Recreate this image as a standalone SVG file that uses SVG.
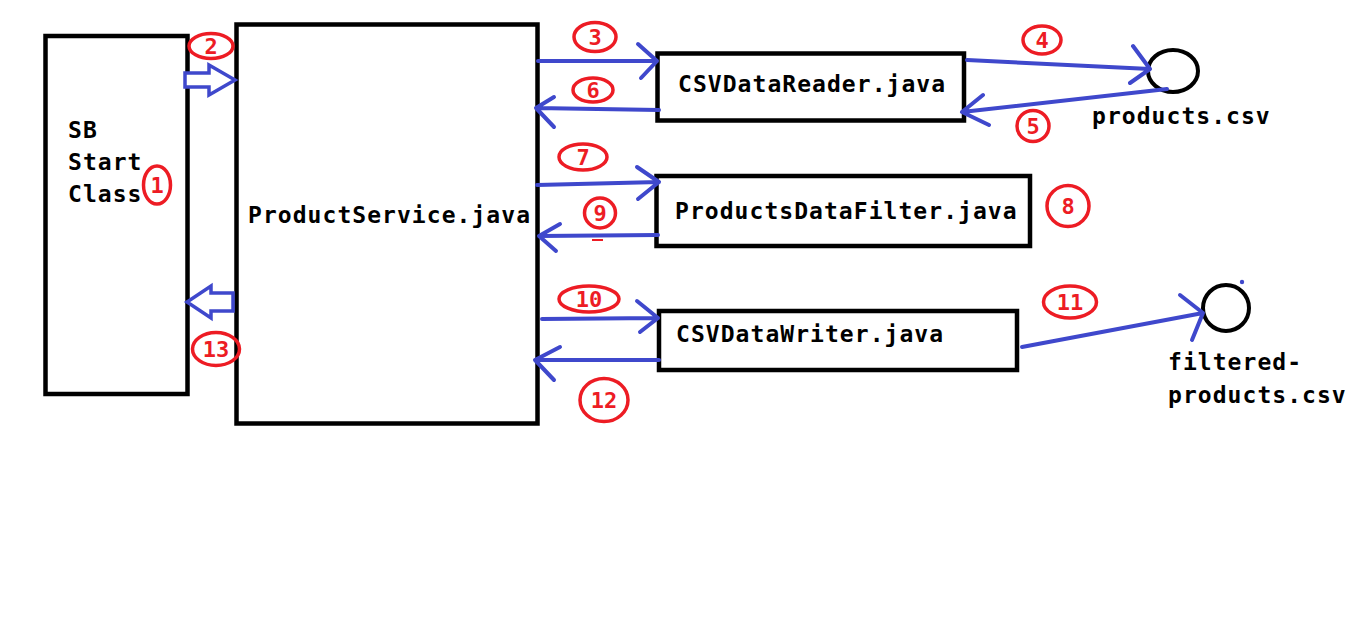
<svg xmlns="http://www.w3.org/2000/svg" width="1360" height="622" viewBox="0 0 1360 622">
<style>
.box{fill:#fff;stroke:#000;stroke-width:4.5}
.txt{font-family:"DejaVu Sans Mono","Liberation Mono",monospace;font-weight:bold;font-size:23px;letter-spacing:1.05px;fill:#000}
.con{fill:none;stroke:#3f48cc;stroke-width:4;stroke-linecap:round;stroke-linejoin:round}
.blk{fill:#fff;stroke:#3f48cc;stroke-width:3.5;stroke-linejoin:miter}
.num ellipse{fill:none;stroke:#ed1c24;stroke-width:3.5}
.num text{font-family:"DejaVu Sans Mono","Liberation Mono",monospace;font-weight:bold;font-size:22px;fill:#ed1c24;text-anchor:middle}
.file{fill:none;stroke:#000;stroke-width:4}
</style>
<rect width="1360" height="622" fill="#fff"/>
<g id="sb-start-class">
<rect class="box" x="45.5" y="36" width="142" height="358"/>
<text class="txt" x="68" y="138">SB</text>
<text class="txt" x="68" y="170">Start</text>
<text class="txt" x="68" y="202">Class</text>
</g>
<g id="product-service">
<rect class="box" x="236.5" y="24.5" width="301" height="399"/>
<text class="txt" x="248" y="223">ProductService.java</text>
</g>
<g id="csv-data-reader">
<rect class="box" x="657.5" y="53.5" width="306.5" height="67"/>
<text class="txt" x="678" y="92">CSVDataReader.java</text>
</g>
<g id="products-data-filter">
<rect class="box" x="656.5" y="176" width="373.5" height="70"/>
<text class="txt" x="675" y="219">ProductsDataFilter.java</text>
</g>
<g id="csv-data-writer">
<rect class="box" x="659" y="311" width="358" height="59"/>
<text class="txt" x="676" y="342">CSVDataWriter.java</text>
</g>
<g id="products-csv">
<ellipse class="file" cx="1173" cy="71" rx="25" ry="21"/>
<text class="txt" x="1092" y="124">products.csv</text>
</g>
<g id="filtered-products-csv">
<circle class="file" cx="1226" cy="308" r="23"/>
<circle cx="1242" cy="282" r="2.2" fill="#3f48cc"/>
<text class="txt" x="1168" y="370">filtered-</text>
<text class="txt" x="1168" y="403">products.csv</text>
</g>
<g id="connectors">
<polygon class="blk" points="185,73 209,73 209,65 235,80 209,95 209,87 185,87"/>
<polygon class="blk" points="233,293 211,293 211,286 187,302 211,318 211,311 233,311"/>
<path class="con" d="M538,61 L657,61 M638,44 L657,61 L641,78"/>
<path class="con" d="M659,110 L536,108 M554,97 L536,108 L554,127"/>
<path class="con" d="M967,60 L1150,69 M1133,46 L1150,69 L1130,83"/>
<path class="con" d="M1167,89 L962,112 M983,95 L962,112 L989,125"/>
<path class="con" d="M537,185 L659,182 M637,167 L659,182 L638,199"/>
<path class="con" d="M658,235 L539,236 M560,224 L539,236 L556,251"/>
<path class="con" d="M542,319 L658,318 M637,301 L658,318 L640,332"/>
<path class="con" d="M659,360 L535,360 M560,347 L535,360 L554,380"/>
<path class="con" d="M1022,347 L1203,313 M1180,295 L1203,313 L1192,340"/>
</g>
<g id="step-labels" class="num">
<g id="n1"><ellipse cx="157" cy="185" rx="13.5" ry="19"/><text x="157" y="193">1</text></g>
<g id="n2"><ellipse cx="211" cy="46" rx="22" ry="12.5"/><text x="211" y="54">2</text></g>
<g id="n3"><ellipse cx="595" cy="37" rx="21" ry="14.5"/><text x="595" y="45">3</text></g>
<g id="n4"><ellipse cx="1042" cy="40" rx="19" ry="14"/><text x="1042" y="48">4</text></g>
<g id="n5"><ellipse cx="1033" cy="126" rx="16" ry="15.5"/><text x="1033" y="134">5</text></g>
<g id="n6"><ellipse cx="593" cy="90" rx="20" ry="12"/><text x="593" y="98">6</text></g>
<g id="n7"><ellipse cx="583" cy="157" rx="24" ry="13"/><text x="583" y="165">7</text></g>
<g id="n8"><ellipse cx="1068" cy="206" rx="21" ry="20.5"/><text x="1068" y="214">8</text></g>
<g id="n9"><ellipse cx="600" cy="213" rx="15.5" ry="15"/><text x="600" y="221">9</text></g>
<line x1="592" y1="240" x2="603" y2="240" stroke="#ed1c24" stroke-width="2"/>
<g id="n10"><ellipse cx="589" cy="299" rx="30" ry="13"/><text x="589" y="307">10</text></g>
<g id="n11"><ellipse cx="1070" cy="302" rx="26.5" ry="16"/><text x="1070" y="310">11</text></g>
<g id="n12"><ellipse cx="604" cy="400" rx="24" ry="21.5"/><text x="604" y="408">12</text></g>
<g id="n13"><ellipse cx="216" cy="349" rx="23.5" ry="16.5"/><text x="216" y="357">13</text></g>
</g>
</svg>
